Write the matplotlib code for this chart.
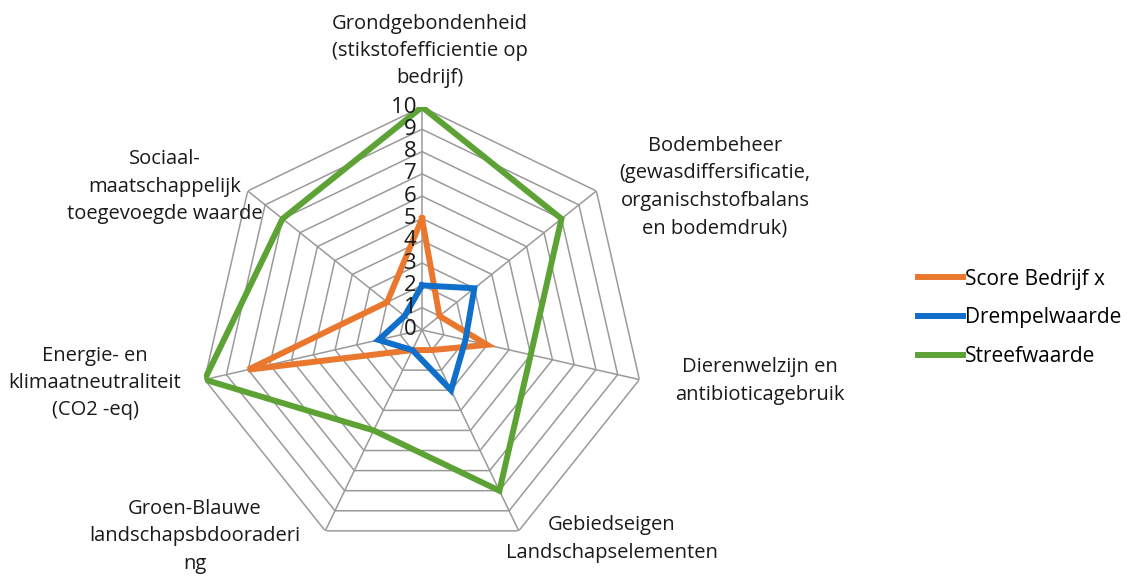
import numpy as np
import matplotlib.pyplot as plt

plt.rcParams['font.family'] = ['Open Sans', 'DejaVu Sans']

# assen (met de klok mee vanaf boven)
categorieen = [
    'Grondgebondenheid\n(stikstofefficientie op\nbedrijf)',
    'Bodembeheer\n(gewasdiffersificatie,\norganischstofbalans\nen bodemdruk)',
    'Dierenwelzijn en\nantibioticagebruik',
    'Gebiedseigen\nLandschapselementen',
    'Groen-Blauwe\nlandschapsbdooraderi\nng',
    'Energie- en\nklimaatneutraliteit\n(CO2 -eq)',
    'Sociaal-\nmaatschappelijk\ntoegevoegde waarde',
]
score_bedrijf = [5, 1, 3, 1, 1, 8, 2]
drempelwaarde = [2, 3, 2, 3, 1, 2, 1]
streefwaarde = [10, 8, 5, 8, 5, 10, 8]
series_namen = ['Score Bedrijf x', 'Drempelwaarde', 'Streefwaarde']
kleuren = ['#E9782E', '#0F6FCB', '#5DA234']
schaal = list(range(0, 11))

n = len(categorieen)
hoeken = np.linspace(0, 2 * np.pi, n, endpoint=False)
dicht = np.append(hoeken, hoeken[0])

fig = plt.figure(figsize=(11.42, 5.78), dpi=100)
ax = fig.add_axes([0.1743, 0.0433, 0.3905, 0.7716], projection='polar')
ax.set_theta_offset(np.pi / 2)
ax.set_theta_direction(-1)
ax.set_ylim(0, 10)
ax.grid(False)
ax.spines['polar'].set_visible(False)
ax.set_xticks([])
ax.set_yticks([])
ax.patch.set_alpha(0)

# veelhoekig raster
for k in schaal[1:]:
    ax.plot(dicht, [k] * (n + 1), color='#9A9A9A', lw=1.1, zorder=1)
for h in hoeken:
    ax.plot([h, h], [0, 10], color='#9A9A9A', lw=1.1, zorder=1)

# schaalwaarden langs de bovenste as
for k in schaal:
    ax.text(0, k, str(k) + ' ', ha='right', va='center', fontsize=16,
            color='#1A1A1A', zorder=5)

for waarden, naam, kleur, z in zip([score_bedrijf, drempelwaarde, streefwaarde],
                                   series_namen, kleuren, [3, 4, 4.5]):
    ax.plot(dicht, waarden + waarden[:1], color=kleur, lw=4.3, label=naam,
            solid_joinstyle='miter', zorder=z)

# aslabels
label_pos = [(430, 51), (715, 187), (760, 381), (612, 539),
             (195, 536), (95, 383), (165, 187)]
for tekst, (px, py) in zip(categorieen, label_pos):
    fig.text(px / 1142, 1 - py / 578, tekst, ha='center', va='center',
             fontsize=14.5, linespacing=1.5, color='#1A1A1A')

fig.legend(loc='center left', bbox_to_anchor=(0.787, 0.45), frameon=False,
           fontsize=15, handlelength=2.2, handletextpad=0.1, labelspacing=0.85)

fig.savefig('out.png', dpi=100)
